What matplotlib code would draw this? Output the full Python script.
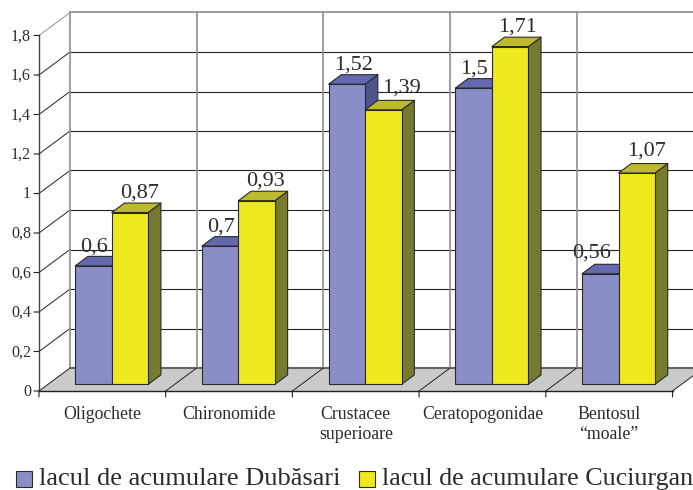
import matplotlib
matplotlib.use("Agg")
import matplotlib.pyplot as plt
from matplotlib.patches import Polygon, Rectangle
from matplotlib.transforms import Affine2D

plt.rcParams['font.family'] = ['Liberation Serif', 'DejaVu Serif']

categories = ["Oligochete", "Chironomide", "Crustacee\nsuperioare", "Ceratopogonidae", "Bentosul\n“moale”"]
dubasari = [0.6, 0.7, 1.52, 1.5, 0.56]
cuciurgan = [0.87, 0.93, 1.39, 1.71, 1.07]
dubasari_labels = ["0,6", "0,7", "1,52", "1,5", "0,56"]
cuciurgan_labels = ["0,87", "0,93", "1,39", "1,71", "1,07"]
y_ticks = [0, 0.2, 0.4, 0.6, 0.8, 1, 1.2, 1.4, 1.6, 1.8]
y_tick_labels = ["0", "0,2", "0,4", "0,6", "0,8", "1", "1,2", "1,4", "1,6", "1,8"]
legend_names = ["lacul de acumulare Dubăsari", "lacul de acumulare Cuciurgan"]

# layout
W, H = 693, 490
X0, Y0 = 39.0, 391.0
CAT_PX, UNIT_PX = 126.7, 197.5
DX, DY = 31.0 / CAT_PX, 23.0 / UNIT_PX       # full wall depth in data units
BAR_D0, BAR_D = 0.29, 0.41                    # bar start depth / depth, fractions of wall depth
BAR_OFF, BAR_W = 0.215, 0.288
# hand-placed label offsets (pixels) from bar front-top centre
shift_d = [(1, 14), (1, 15), (7, 15), (0, 15), (-9, 16)]
shift_c = [(10, 15), (9, 15), (18, 17), (7, 15), (10, 17)]

fig = plt.figure(figsize=(W / 100, H / 100), dpi=100)
ax = fig.add_axes([0, 0, 1, 1])
ax.set_xlim(-X0 / CAT_PX, (W - X0) / CAT_PX)
ax.set_ylim((Y0 - H) / UNIT_PX, Y0 / UNIT_PX)
ax.axis("off")
n = len(categories)
XR = n + DX + 0.5
LC = "#222222"
WALL = "#8f8f92"
TXT = "#2b2b2b"

# floor
ax.add_patch(Polygon([(0, 0), (n, 0), (n + DX, DY), (DX, DY)], fc="#c9cbcb", ec="none", zorder=1))
# gridlines on back and side wall
for i, v in enumerate(y_ticks):
    c = WALL if i == len(y_ticks) - 1 else LC
    if i > 0:
        ax.plot([DX, XR], [v + DY, v + DY], color=c, lw=0.8 if i < len(y_ticks) - 1 else 1.2, zorder=1.5)
        ax.plot([0, DX], [v, v + DY], color=c, lw=0.7, zorder=1.5)
ax.plot([DX, XR], [DY, DY], color="#666666", lw=1.5, zorder=1.5)
# vertical wall lines
for i in range(n + 1):
    ax.plot([i + DX, i + DX], [DY, y_ticks[-1] + DY], color=WALL, lw=1.2, zorder=1.6)
# floor dividers
for i in range(n + 1):
    ax.plot([i, i + DX], [0, DY], color=LC, lw=0.7, zorder=1.7)
# axes
ax.plot([0, 0], [0, y_ticks[-1]], color="#444444", lw=1.0, zorder=2)
ax.plot([0, n], [0, 0], color=LC, lw=1.0, zorder=2)
for v, lab in zip(y_ticks, y_tick_labels):
    ax.annotate("", (0, v), (-5, 0), xycoords="data", textcoords="offset pixels",
                arrowprops=dict(arrowstyle="-", color=LC, lw=0.8, shrinkA=0, shrinkB=0), zorder=2)
    ax.annotate(lab, (0, v), (-8, -1), textcoords="offset pixels", ha="right", va="center",
                fontsize=11.5, color=TXT)
for i in range(n + 1):
    ax.annotate("", (i, 0), (0, -6), textcoords="offset pixels",
                arrowprops=dict(arrowstyle="-", color=LC, lw=0.8, shrinkA=0, shrinkB=0), zorder=2)
for i, name in enumerate(categories):
    ax.annotate(name, (i + 0.5, 0), (0, -15), textcoords="offset pixels", ha="center", va="top",
                fontsize=12.8, color=TXT, linespacing=1.2)


def bar(x, v, face, top, side, z):
    b = BAR_D0 * DY
    a = BAR_D0 * DX
    dx, dy = BAR_D * DX, BAR_D * DY
    xl, xr = x + a, x + a + BAR_W
    kw = dict(ec="#2a2a2a", lw=0.8, zorder=z, joinstyle="round")
    ax.add_patch(Polygon([(xr, b), (xr + dx, b + dy), (xr + dx, b + v + dy), (xr, b + v)], fc=side, **kw))
    ax.add_patch(Polygon([(xl, b + v), (xr, b + v), (xr + dx, b + v + dy), (xl + dx, b + v + dy)], fc=top, **kw))
    ax.add_patch(Rectangle((xl, b), BAR_W, v, fc=face, **kw))
    return (xl + xr) / 2, b + v


for i in range(n):
    x1 = i + BAR_OFF
    x2 = x1 + BAR_W
    c1 = bar(x1, dubasari[i], "#8a8ec6", "#6468b0", "#4c5488", 3 + i)
    c2 = bar(x2, cuciurgan[i], "#f0e81e", "#bdbb2b", "#767a2d", 3.5 + i)
    ax.annotate(dubasari_labels[i], c1, shift_d[i], textcoords="offset pixels", ha="center", va="baseline",
                fontsize=16, color=TXT, zorder=20)
    ax.annotate(cuciurgan_labels[i], c2, shift_c[i], textcoords="offset pixels", ha="center", va="baseline",
                fontsize=16, color=TXT, zorder=20)

# legend
px = Affine2D().scale(1, -1).translate(0, H)
for x, col, name, fs in zip([16, 358.5], ["#8a8ec6", "#f0e81e"], legend_names, [19, 18.7]):
    ax.add_patch(Rectangle((x, 470.5), 16, 16, fc=col, ec="#2a2a2a", lw=0.8, transform=px, zorder=5))
    ax.text(x + 23, 485, name, transform=px, fontsize=fs, color=TXT, ha="left", va="baseline")

fig.savefig("out.png", dpi=100)
